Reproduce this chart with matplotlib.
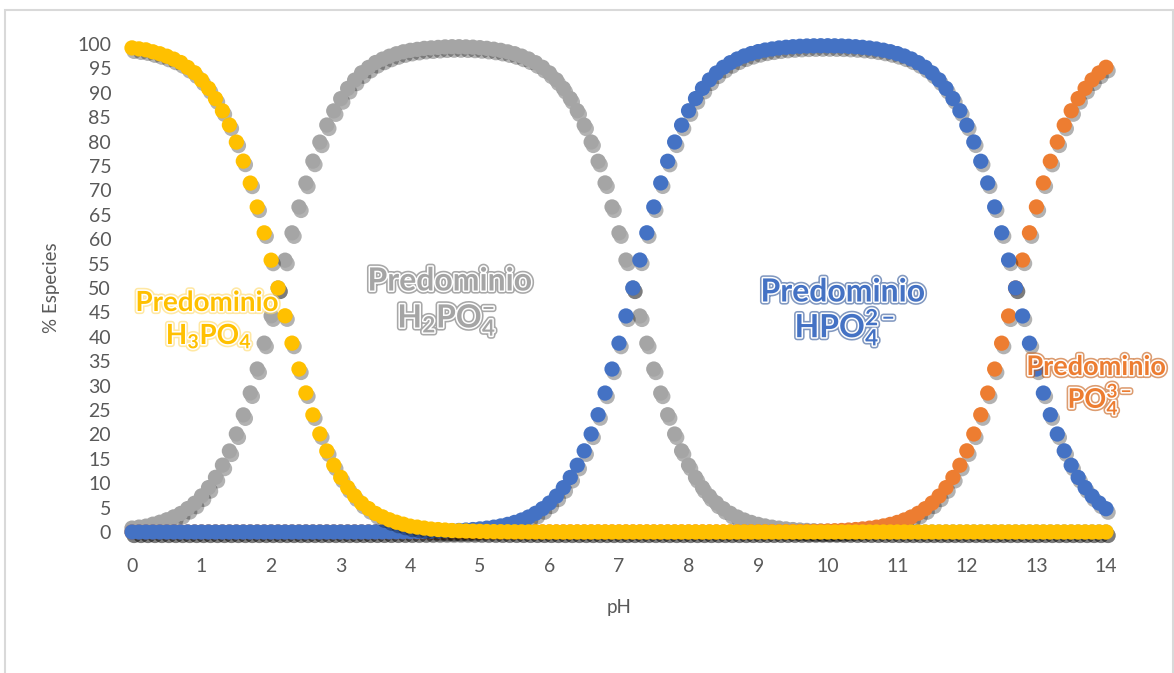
import matplotlib
matplotlib.use("Agg")
import matplotlib.pyplot as plt
import matplotlib.patheffects as pe
from matplotlib.patches import Rectangle

plt.rcParams['font.family'] = ['Lato', 'DejaVu Sans']
plt.rcParams['mathtext.fontset'] = 'custom'
plt.rcParams['mathtext.rm'] = 'Lato:bold'
plt.rcParams['mathtext.bf'] = 'Lato:bold'
plt.rcParams['mathtext.it'] = 'Lato:bold'

# pH values 0.0 .. 14.0
ph = [0.0, 0.1, 0.2, 0.3, 0.4, 0.5, 0.6, 0.7, 0.8, 0.9,
      1.0, 1.1, 1.2, 1.3, 1.4, 1.5, 1.6, 1.7, 1.8, 1.9,
      2.0, 2.1, 2.2, 2.3, 2.4, 2.5, 2.6, 2.7, 2.8, 2.9,
      3.0, 3.1, 3.2, 3.3, 3.4, 3.5, 3.6, 3.7, 3.8, 3.9,
      4.0, 4.1, 4.2, 4.3, 4.4, 4.5, 4.6, 4.7, 4.8, 4.9,
      5.0, 5.1, 5.2, 5.3, 5.4, 5.5, 5.6, 5.7, 5.8, 5.9,
      6.0, 6.1, 6.2, 6.3, 6.4, 6.5, 6.6, 6.7, 6.8, 6.9,
      7.0, 7.1, 7.2, 7.3, 7.4, 7.5, 7.6, 7.7, 7.8, 7.9,
      8.0, 8.1, 8.2, 8.3, 8.4, 8.5, 8.6, 8.7, 8.8, 8.9,
      9.0, 9.1, 9.2, 9.3, 9.4, 9.5, 9.6, 9.7, 9.8, 9.9,
      10.0, 10.1, 10.2, 10.3, 10.4, 10.5, 10.6, 10.7, 10.8, 10.9,
      11.0, 11.1, 11.2, 11.3, 11.4, 11.5, 11.6, 11.7, 11.8, 11.9,
      12.0, 12.1, 12.2, 12.3, 12.4, 12.5, 12.6, 12.7, 12.8, 12.9,
      13.0, 13.1, 13.2, 13.3, 13.4, 13.5, 13.6, 13.7, 13.8, 13.9,
      14.0]

# % H3PO4 (yellow)
h3po4 = [99.2, 99.0, 98.8, 98.4, 98.0, 97.5, 96.9, 96.2, 95.2, 94.1,
         92.6, 90.9, 88.8, 86.3, 83.4, 79.9, 76.0, 71.5, 66.6, 61.3,
         55.7, 50.0, 44.3, 38.7, 33.4, 28.5, 24.0, 20.1, 16.6, 13.7,
         11.2, 9.1, 7.4, 5.9, 4.8, 3.8, 3.1, 2.5, 2.0, 1.6,
         1.2, 1.0, 0.8, 0.6, 0.5, 0.4, 0.3, 0.25, 0.2, 0.16,
         0.13, 0.1, 0.08, 0.06, 0.05, 0.04, 0.03, 0.02, 0.02, 0.01,
         0.01, 0, 0, 0, 0, 0, 0, 0, 0, 0,
         0, 0, 0, 0, 0, 0, 0, 0, 0, 0,
         0, 0, 0, 0, 0, 0, 0, 0, 0, 0,
         0, 0, 0, 0, 0, 0, 0, 0, 0, 0,
         0, 0, 0, 0, 0, 0, 0, 0, 0, 0,
         0, 0, 0, 0, 0, 0, 0, 0, 0, 0,
         0, 0, 0, 0, 0, 0, 0, 0, 0, 0,
         0, 0, 0, 0, 0, 0, 0, 0, 0, 0,
         0]

# % H2PO4- (gray)
h2po4 = [0.8, 1.0, 1.2, 1.6, 2.0, 2.5, 3.1, 3.8, 4.8, 5.9,
         7.4, 9.1, 11.2, 13.7, 16.6, 20.1, 24.0, 28.5, 33.4, 38.7,
         44.3, 50.0, 55.7, 61.3, 66.6, 71.5, 76.0, 79.9, 83.4, 86.3,
         88.8, 90.9, 92.6, 94.1, 95.2, 96.2, 96.9, 97.5, 98.0, 98.4,
         98.7, 98.9, 99.1, 99.2, 99.3, 99.4, 99.44, 99.44, 99.4, 99.35,
         99.25, 99.11, 98.93, 98.7, 98.39, 98.01, 97.52, 96.93, 96.17, 95.23,
         94.06, 92.64, 90.91, 88.82, 86.32, 83.37, 79.92, 75.97, 71.53, 66.61,
         61.31, 55.73, 50.0, 44.27, 38.69, 33.39, 28.47, 24.03, 20.08, 16.63,
         13.68, 11.18, 9.09, 7.36, 5.94, 4.77, 3.83, 3.07, 2.45, 1.96,
         1.56, 1.24, 0.99, 0.79, 0.63, 0.5, 0.4, 0.32, 0.25, 0.2,
         0.16, 0.13, 0.1, 0.08, 0.06, 0.05, 0.04, 0.03, 0.02, 0.02,
         0.01, 0, 0, 0, 0, 0, 0, 0, 0, 0,
         0, 0, 0, 0, 0, 0, 0, 0, 0, 0,
         0, 0, 0, 0, 0, 0, 0, 0, 0, 0,
         0]

# % HPO4 2- (blue)
hpo4 = [0, 0, 0, 0, 0, 0, 0, 0, 0, 0,
        0, 0, 0, 0, 0, 0, 0, 0, 0, 0,
        0, 0, 0, 0, 0, 0, 0, 0, 0, 0,
        0, 0, 0, 0.01, 0.01, 0.02, 0.02, 0.03, 0.04, 0.05,
        0.06, 0.08, 0.1, 0.13, 0.16, 0.2, 0.25, 0.31, 0.4, 0.5,
        0.63, 0.79, 0.99, 1.24, 1.56, 1.96, 2.45, 3.07, 3.83, 4.77,
        5.94, 7.36, 9.09, 11.18, 13.68, 16.63, 20.08, 24.03, 28.47, 33.39,
        38.69, 44.27, 50.0, 55.73, 61.31, 66.61, 71.53, 75.97, 79.92, 83.37,
        86.32, 88.82, 90.91, 92.64, 94.06, 95.23, 96.17, 96.93, 97.55, 98.04,
        98.44, 98.76, 98.98, 99.19, 99.33, 99.44, 99.53, 99.59, 99.62, 99.64,
        99.64, 99.62, 99.59, 99.53, 99.44, 99.32, 99.17, 98.98, 98.73, 98.42,
        98.03, 97.54, 96.93, 96.17, 95.23, 94.06, 92.64, 90.91, 88.82, 86.32,
        83.37, 79.92, 75.97, 71.53, 66.61, 61.31, 55.73, 50.0, 44.27, 38.69,
        33.39, 28.47, 24.03, 20.08, 16.63, 13.68, 11.18, 9.09, 7.36, 5.94,
        4.77]

# % PO4 3- (orange)
po4 = [0, 0, 0, 0, 0, 0, 0, 0, 0, 0,
       0, 0, 0, 0, 0, 0, 0, 0, 0, 0,
       0, 0, 0, 0, 0, 0, 0, 0, 0, 0,
       0, 0, 0, 0, 0, 0, 0, 0, 0, 0,
       0, 0, 0, 0, 0, 0, 0, 0, 0, 0,
       0, 0, 0, 0, 0, 0, 0, 0, 0, 0,
       0, 0, 0, 0, 0, 0, 0, 0, 0, 0,
       0, 0, 0, 0, 0, 0, 0, 0, 0, 0,
       0, 0, 0, 0, 0, 0, 0, 0, 0, 0.01,
       0.02, 0.02, 0.03, 0.04, 0.05, 0.06, 0.08, 0.1, 0.13, 0.16,
       0.2, 0.25, 0.31, 0.4, 0.5, 0.63, 0.79, 0.99, 1.24, 1.56,
       1.96, 2.46, 3.07, 3.83, 4.77, 5.94, 7.36, 9.09, 11.18, 13.68,
       16.63, 20.08, 24.03, 28.47, 33.39, 38.69, 44.27, 50.0, 55.73, 61.31,
       66.61, 71.53, 75.97, 79.92, 83.37, 86.32, 88.82, 90.91, 92.64, 94.06,
       95.23]

yticks = [0, 5, 10, 15, 20, 25, 30, 35, 40, 45, 50, 55, 60, 65, 70, 75, 80, 85, 90, 95, 100]
xticks = [0, 1, 2, 3, 4, 5, 6, 7, 8, 9, 10, 11, 12, 13, 14]

C_YEL = '#FFC000'
C_GRAY = '#A5A5A5'
C_BLUE = '#4472C4'
C_ORA = '#ED7D31'

W, H = 1174, 673
fig = plt.figure(figsize=(W / 100, H / 100), dpi=100)
fig.patch.set_facecolor('white')
fig.patches.append(Rectangle((5 / W, -0.01), (1173 - 5) / W, 1 - 10 / H + 0.01,
                             transform=fig.transFigure, fill=False,
                             edgecolor='#D9D9D9', linewidth=1.5))

ax = fig.add_axes([132 / W, 1 - 532 / H, (1106 - 132) / W, (532 - 44) / H])
ax.set_xlim(0, 14)
ax.set_ylim(0, 100)
for s in ax.spines.values():
    s.set_visible(False)

shadow = [pe.SimplePatchShadow(offset=(1.5, -2.5), shadow_rgbFace='black', alpha=0.3), pe.Normal()]
ms = 11
for vals, col, z in [(h2po4, C_GRAY, 3), (po4, C_ORA, 4), (hpo4, C_BLUE, 5), (h3po4, C_YEL, 6)]:
    ax.plot(ph, vals, 'o', ms=ms, color=col, mec='none', clip_on=False, zorder=z,
            path_effects=shadow)

ax.set_yticks(yticks)
ax.set_xticks(xticks)
ax.tick_params(axis='both', length=0, labelsize=14, labelcolor='#595959')
ax.tick_params(axis='y', pad=15)
ax.tick_params(axis='x', pad=19)
ax.set_xlabel('pH', fontsize=13.5, color='#595959', labelpad=17)
ax.set_ylabel('% Especies', fontsize=13.5, color='#595959', labelpad=12)


def label(x, y, txt, fill, edge, size):
    fig.text(x / W, 1 - y / H, txt, ha='center', va='center', fontsize=size,
             fontweight='bold', color=fill, zorder=20,
             path_effects=[pe.Stroke(linewidth=4.5, foreground=edge, alpha=0.6),
                           pe.Stroke(linewidth=2.2, foreground='white'),
                           pe.Normal()])


label(207, 303, 'Predominio', C_YEL, '#FFD966', 20)
label(209, 336, r'H$_3$PO$_4$', C_YEL, '#FFD966', 20)
label(450, 281, 'Predominio', C_GRAY, '#6E6E6E', 23)
label(447, 320, r'H$_2$PO$_4^{-}$', C_GRAY, '#6E6E6E', 23)
label(843, 292, 'Predominio', C_BLUE, '#2F5597', 23)
label(845, 327, r'HPO$_4^{2-}$', C_BLUE, '#2F5597', 23)
label(1096, 367, 'Predominio', C_ORA, '#C55A11', 19.5)
label(1100, 400, r'PO$_4^{3-}$', C_ORA, '#C55A11', 19.5)

fig.savefig('out.png', dpi=100, facecolor='white')
